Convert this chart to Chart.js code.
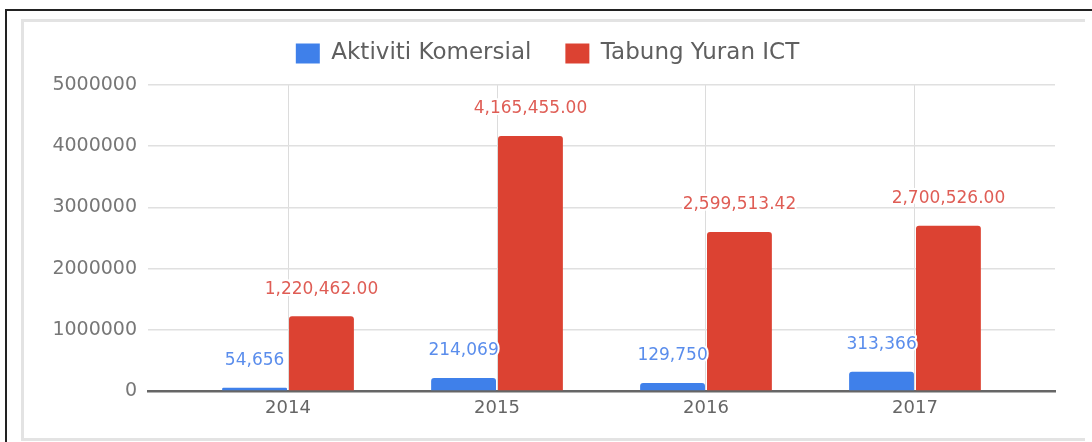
<!DOCTYPE html>
<html>
<head>
<meta charset="utf-8">
<script src="https://cdn.jsdelivr.net/npm/chart.js@4.4.1/dist/chart.umd.min.js"></script>
<style>
body { margin: 0; background: #fff; }
#frame { position: absolute; left: 5px; top: 9px; width: 1090px; height: 440px; border-top: 2px solid #222; border-left: 2px solid #222; }
#card { position: absolute; left: 21px; top: 19px; width: 1061px; height: 416px; border: 3px solid #e3e3e3; border-right: none; }
#wrap { position: absolute; left: 0; top: 0; width: 1092px; height: 442px; }
</style>
</head>
<body>
<div id="frame"></div>
<div id="card"></div>
<div id="wrap"><canvas id="chart"></canvas></div>
<script>
const years = ['2014', '2015', '2016', '2017'];
const komersial = [54656, 214069, 129750, 313366];
const tabung = [1220462.00, 4165455.00, 2599513.42, 2700526.00];
const yTicks = [0, 1000000, 2000000, 3000000, 4000000, 5000000];

const FONT = '"DejaVu Sans", sans-serif';

const toPoints = (vals) => vals.map((v, i) => ({x: i, y: v}));

// value labels above bars, with white halo like the original
const valueLabels = {
    id: 'valueLabels',
    afterDatasetsDraw(chart) {
        const ctx = chart.ctx;
        ctx.save();
        ctx.font = '17px ' + FONT;
        ctx.textAlign = 'center';
        ctx.textBaseline = 'middle';
        ctx.lineJoin = 'round';
        chart.data.datasets.forEach((ds, di) => {
            chart.getDatasetMeta(di).data.forEach((bar, i) => {
                const v = ds.data[i].y;
                const txt = di == 0
                    ? v.toLocaleString('en-US')
                    : v.toLocaleString('en-US', {minimumFractionDigits: 2, maximumFractionDigits: 2});
                ctx.lineWidth = 4;
                ctx.strokeStyle = '#fff';
                ctx.strokeText(txt, bar.x, bar.y - 27);
                ctx.fillStyle = ds.labelColor;
                ctx.fillText(txt, bar.x, bar.y - 27);
            });
        });
        ctx.restore();
    }
};

// a bit more room under the legend
const legendGap = {
    id: 'legendGap',
    beforeInit(chart) {
        const fit = chart.legend.fit;
        chart.legend.fit = function() {
            fit.call(this);
            this.height += 10;
        };
    }
};

new Chart('chart', {
    type: 'bar',
    data: {
        datasets: [{
            label: 'Aktiviti Komersial',
            data: toPoints(komersial),
            backgroundColor: '#3f80ea',
            labelColor: '#5a8dec',
            borderWidth: 0,
            borderRadius: 3,
            categoryPercentage: 0.64,
            barPercentage: 0.97
        }, {
            label: 'Tabung Yuran ICT',
            data: toPoints(tabung),
            backgroundColor: '#dc4232',
            labelColor: '#df5d55',
            borderWidth: 0,
            borderRadius: 3,
            categoryPercentage: 0.64,
            barPercentage: 0.97
        }]
    },
    options: {
        responsive: true,
        maintainAspectRatio: false,
        animation: false,
        layout: {padding: {left: 40, right: 37, top: 8, bottom: 0}},
        plugins: {
            legend: {
                display: true,
                position: 'top',
                labels: {
                    font: {family: FONT, size: 23},
                    color: '#5f5f5f',
                    boxWidth: 24,
                    boxHeight: 20,
                    padding: 34
                }
            },
            tooltip: {enabled: false}
        },
        scales: {
            x: {
                type: 'linear',
                min: -0.67,
                max: 3.67,
                offset: false,
                afterBuildTicks: s => { s.ticks = years.map((_, i) => ({value: i})); },
                afterFit: s => { s.height = 51; },
                ticks: {
                    callback: v => years[v],
                    font: {family: FONT, size: 18},
                    color: '#666',
                    padding: 7,
                    autoSkip: false,
                    maxRotation: 0
                },
                grid: {color: '#dcdcdc', lineWidth: 1, offset: false, drawTicks: false},
                border: {display: true, color: '#666', width: 2.5}
            },
            y: {
                min: 0,
                max: 5000000,
                afterBuildTicks: s => { s.ticks = yTicks.map(v => ({value: v})); },
                afterFit: s => { s.width = 108; },
                ticks: {
                    callback: v => String(v),
                    font: {family: FONT, size: 19},
                    color: '#777',
                    padding: 11
                },
                grid: {color: '#e0e0e0', lineWidth: 1.5, drawTicks: false},
                border: {display: false}
            }
        }
    },
    plugins: [valueLabels, legendGap]
});
</script>
</body>
</html>
